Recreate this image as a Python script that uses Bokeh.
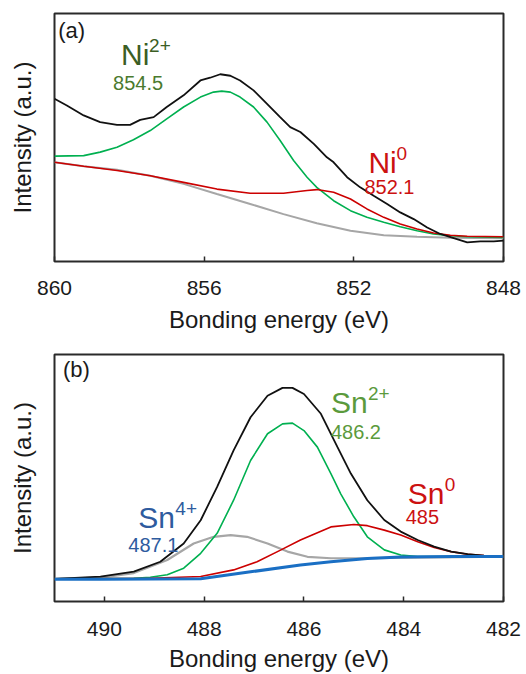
from bokeh.plotting import figure
from bokeh.models import Range1d, FixedTicker, Label
from bokeh.layouts import column
from bokeh.embed import file_html
from bokeh.resources import INLINE

# ---------------- Panel (a): Ni 2p ----------------
ni_ticks = [860, 856, 852, 848]

ni_total_e = [860.0, 859.67, 859.22, 858.78, 858.33, 857.98, 857.71, 857.35, 857.0, 856.55,
              856.1, 855.84, 855.57, 855.3, 855.04, 854.68, 854.32, 853.97, 853.7, 853.43,
              853.07, 852.72, 852.54, 852.18, 851.83, 851.47, 851.11, 850.76, 850.4, 850.04,
              849.69, 849.33, 848.97, 848.62, 848.26, 848.0]
ni_total_i = [65.6, 62.9, 58.9, 56.2, 55.1, 55.1, 57.1, 58.2, 62.3, 67.0,
              73.0, 74.1, 75.5, 74.9, 73.0, 69.0, 63.6, 58.2, 54.2, 52.2,
              47.4, 42.0, 40.0, 34.0, 29.9, 26.5, 23.2, 19.8, 17.1, 13.7,
              11.1, 9.4, 7.7, 8.1, 8.1, 8.4]

ni2_e = [860.0, 859.22, 858.78, 858.33, 857.89, 857.44, 857.0, 856.55, 856.1, 855.75,
         855.53, 855.3, 855.04, 854.68, 854.32, 853.97, 853.61, 853.25, 852.99, 852.54,
         852.09, 851.65, 851.2, 850.76, 850.31, 849.87, 849.42, 848.97, 848.0]
ni2_i = [42.5, 42.7, 44.1, 46.1, 49.1, 52.8, 57.5, 62.3, 66.3, 68.3,
         68.7, 68.3, 66.3, 62.3, 56.2, 48.8, 40.7, 34.0, 29.9, 24.5,
         20.5, 17.8, 15.8, 14.0, 12.4, 11.1, 10.4, 10.0, 9.7]

ni0_e = [860.0, 859.22, 858.33, 857.44, 856.55, 855.66, 854.77, 853.88, 853.25, 852.99,
         852.54, 852.09, 851.65, 851.2, 850.76, 850.31, 849.87, 849.42, 848.97, 848.0]
ni0_i = [40.0, 38.4, 36.7, 34.6, 31.9, 29.2, 27.5, 27.5, 28.6, 29.0,
         27.9, 25.2, 21.2, 17.8, 15.1, 13.1, 11.5, 10.6, 10.2, 10.0]

ni_bg_e = [860.0, 859.22, 858.33, 857.44, 856.55, 855.66, 854.77, 853.88, 852.99, 852.09,
           851.2, 850.31, 849.42, 848.0]
ni_bg_i = [40.0, 38.4, 37.0, 34.6, 31.3, 27.2, 23.2, 19.1, 15.4, 12.4,
           10.6, 10.0, 9.6, 9.4]

# ---------------- Panel (b): Sn 3d ----------------
sn_ticks = [490, 488, 486, 484, 482]

sn_total_e = [491.0, 490.08, 489.41, 488.88, 488.41, 488.07, 487.74, 487.41, 487.07, 486.73,
              486.43, 486.23, 486.0, 485.66, 485.46, 485.33, 485.06, 484.73, 484.39, 484.06,
              483.72, 483.39, 483.05, 482.72, 482.39, 482.0]
sn_total_i = [9.2, 10.1, 12.1, 16.1, 23.5, 32.9, 46.4, 61.2, 74.6, 83.3,
              86.5, 86.5, 84.0, 76.0, 67.9, 62.6, 51.8, 41.0, 33.0, 28.3,
              24.9, 22.2, 20.2, 19.2, 18.6, 18.2]

sn2_e = [491.0, 489.41, 489.08, 488.74, 488.41, 488.07, 487.74, 487.41, 487.07, 486.73,
         486.43, 486.23, 486.0, 485.73, 485.46, 485.26, 485.0, 484.73, 484.39, 484.06,
         483.72, 482.0]
sn2_i = [9.2, 9.4, 9.8, 10.8, 13.5, 19.5, 27.6, 41.0, 57.1, 67.9,
         71.9, 72.2, 69.2, 62.5, 51.8, 43.5, 34.3, 26.2, 20.9, 18.8,
         18.2, 18.2]

sn0_e = [491.0, 489.08, 488.07, 487.41, 486.94, 486.47, 486.07, 485.46, 485.0, 484.73,
         484.39, 484.06, 483.72, 483.39, 483.05, 482.72, 482.39, 482.0]
sn0_i = [9.2, 9.4, 10.1, 12.8, 16.1, 20.8, 24.9, 30.2, 31.2, 30.7,
         28.9, 26.9, 24.2, 21.9, 20.2, 19.1, 18.6, 18.2]

sn4_e = [491.0, 490.08, 489.41, 488.74, 488.21, 487.81, 487.47, 487.14, 486.73, 486.33,
         485.93, 485.46, 484.73, 482.0]
sn4_i = [9.2, 9.7, 11.5, 16.8, 23.5, 26.2, 26.9, 26.2, 23.5, 20.2,
         18.1, 17.5, 17.6, 18.2]

sn_bg_e = [491.0, 490.08, 488.07, 487.07, 486.07, 485.46, 484.73, 484.06, 483.0, 482.0]
sn_bg_i = [9.0, 9.0, 9.2, 12.0, 14.8, 16.1, 17.4, 18.0, 18.2, 18.2]

FONT = "Liberation Sans"
FRAME = "#2a2a2a"


def make_fig(xr, ticks, height, top, bottom, tick_standoff, label_standoff):
    p = figure(width=526, height=height, x_range=Range1d(*xr), y_range=Range1d(0, 100),
               output_backend="svg", toolbar_location=None,
               min_border_left=54, min_border_right=23,
               min_border_top=top, min_border_bottom=bottom)
    p.grid.visible = False
    p.background_fill_color = "white"
    p.border_fill_color = "white"
    p.outline_line_color = FRAME
    p.outline_line_width = 2

    xa = p.xaxis[0]
    xa.ticker = FixedTicker(ticks=ticks)
    xa.axis_line_color = None
    xa.major_tick_in = 5
    xa.major_tick_out = 0
    xa.minor_tick_line_color = None
    xa.major_tick_line_color = FRAME
    xa.major_tick_line_width = 1.5
    xa.major_label_text_font = FONT
    xa.major_label_text_font_size = "21px"
    xa.major_label_text_color = "#1a1a1a"
    xa.major_label_standoff = tick_standoff
    xa.axis_label = "Bonding energy (eV)"
    xa.axis_label_text_font = FONT
    xa.axis_label_text_font_size = "24px"
    xa.axis_label_text_font_style = "normal"
    xa.axis_label_text_color = "#1a1a1a"
    xa.axis_label_standoff = label_standoff

    ya = p.yaxis[0]
    ya.ticker = FixedTicker(ticks=[])
    ya.axis_line_color = None
    ya.major_tick_line_color = None
    ya.minor_tick_line_color = None
    ya.major_label_standoff = 0
    ya.axis_label = "Intensity (a.u.)"
    ya.axis_label_text_font = FONT
    ya.axis_label_text_font_size = "24px"
    ya.axis_label_text_font_style = "normal"
    ya.axis_label_text_color = "#1a1a1a"
    ya.axis_label_standoff = 19
    return p


def txt(p, x, y, s, size, color, xo=0, yo=0, align="left", baseline="alphabetic"):
    p.add_layout(Label(x=x, y=y, x_offset=xo, y_offset=yo, text=s,
                       text_font=FONT, text_font_size=size, text_color=color,
                       text_align=align, text_baseline=baseline))


def ion(p, x, y, base, sup, num, color, numcolor, base_w, rise, num_dx, num_dy):
    txt(p, x, y, base, "30px", color)
    txt(p, x, y, sup, "19px", color, xo=base_w, yo=rise)
    txt(p, x, y, num, "20px", numcolor, xo=num_dx, yo=-num_dy)


# ---------- panel (a) ----------
pa = make_fig((860, 848), ni_ticks, 345, 13, 84, 19, 8)
pa.line(ni_bg_e, ni_bg_i, line_color="#a6a6a6", line_width=2)
pa.line(ni2_e, ni2_i, line_color="#00b050", line_width=1.6)
pa.line(ni0_e, ni0_i, line_color="#cc0000", line_width=1.6)
pa.line(ni_total_e, ni_total_i, line_color="#111111", line_width=1.8)

txt(pa, 859.9, 93.3, "(a)", "22px", "#1a1a1a", baseline="middle")
ion(pa, 858.22, 83.5, "Ni", "2+", "854.5", "#3b5e24", "#4a7a2e", 28, 9, -8, 29)
ion(pa, 851.61, 39.9, "Ni", "0", "852.1", "#cc1111", "#cc1111", 28, 9, -4, 24)

# ---------- panel (b) ----------
pb = make_fig((491, 482), sn_ticks, 329, 9, 72, 20, 6)
pb.line(sn4_e, sn4_i, line_color="#a6a6a6", line_width=2.2)
pb.line(sn2_e, sn2_i, line_color="#00b050", line_width=1.6)
pb.line(sn0_e, sn0_i, line_color="#cc0000", line_width=1.6)
pb.line(sn_total_e, sn_total_i, line_color="#111111", line_width=1.8)
pb.line(sn_bg_e, sn_bg_i, line_color="#1a6fc4", line_width=3)

txt(pb, 490.83, 93.8, "(b)", "22px", "#1a1a1a", baseline="middle")
ion(pb, 485.46, 80.5, "Sn", "2+", "486.2", "#5b9a3c", "#5b9a3c", 37, 9, 0, 29)
ion(pb, 483.92, 43.8, "Sn", "0", "485", "#cc1111", "#cc1111", 37, 9, -2, 24)
ion(pb, 489.32, 34.2, "Sn", "4+", "487.1", "#2e5b9e", "#2e5b9e", 37, 9, -10, 28)

layout = column(pa, pb)
open("out.html", "w").write(file_html(layout, INLINE))
